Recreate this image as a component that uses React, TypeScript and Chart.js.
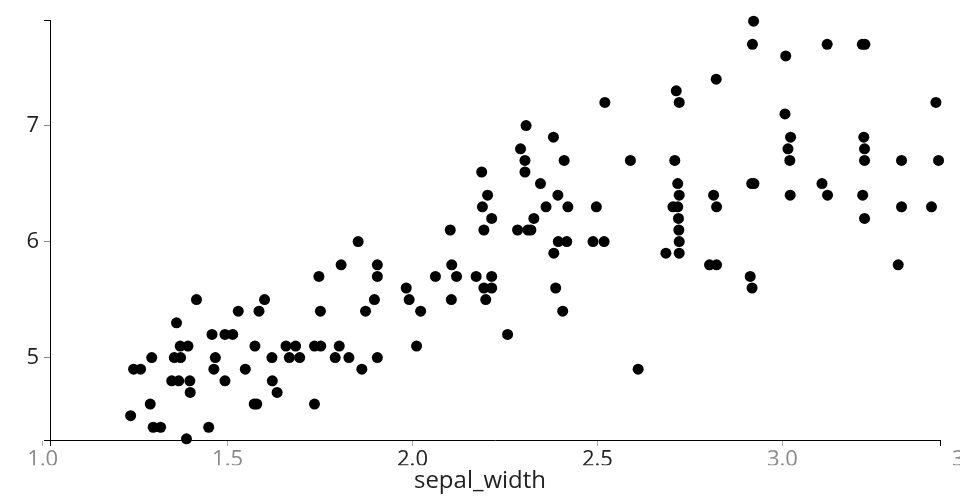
import { useEffect, useRef } from "react";
import { Chart, registerables } from "chart.js";

Chart.register(...registerables);

// sepal_width (x) values
const sepalWidth: number[] = [
  1.747, 1.416, 1.6, 1.529, 1.585, 1.751, 1.362, 1.458, 1.493, 1.514,
  1.372, 1.393, 1.574, 1.658, 1.684, 1.735, 1.752, 1.295, 1.356, 1.373,
  1.467, 1.62, 1.667, 1.695, 1.246, 1.265, 1.463, 1.548, 1.349, 1.368,
  1.398, 1.493, 1.621, 1.399, 1.634, 1.291, 1.572, 1.579, 1.735, 1.238,
  1.299, 1.319, 1.449, 1.389,
  1.807, 1.905, 1.905, 2.106, 2.062, 2.119, 2.172, 2.214, 1.983, 2.193,
  2.214, 2.387, 1.897, 1.991, 2.105, 2.198, 1.873, 2.022, 2.406, 2.257,
  1.802, 2.011, 1.791, 1.828, 1.905, 1.863, 2.61, 2.382,
  2.52, 2.307, 2.381, 2.292, 2.304, 2.41, 2.589, 2.187, 2.304, 2.346,
  2.203, 2.393, 2.189, 2.361, 2.42, 2.497, 2.214, 2.328, 2.102, 2.193,
  2.284, 2.312, 2.32, 1.853, 2.394, 2.417, 2.488, 2.518,
  2.922, 2.919, 3.121, 3.216, 3.223, 3.009, 2.821, 2.713, 2.721, 3.415,
  3.007, 3.022, 3.22, 3.015, 3.222, 2.709, 3.02, 3.222, 3.322, 3.422,
  2.717, 2.917, 2.923, 3.107, 2.721, 2.814, 3.021, 3.122, 3.217, 2.704,
  2.717, 2.822, 3.322, 3.403, 2.719, 3.222, 2.72, 2.721, 2.685, 2.721,
  2.803, 2.822, 3.313, 2.913, 2.918,
];

// sepal_length (y) values
const sepalLength: number[] = [
  5.7, 5.5, 5.5, 5.4, 5.4, 5.4, 5.3, 5.2, 5.2, 5.2,
  5.1, 5.1, 5.1, 5.1, 5.1, 5.1, 5.1, 5.0, 5.0, 5.0,
  5.0, 5.0, 5.0, 5.0, 4.9, 4.9, 4.9, 4.9, 4.8, 4.8,
  4.8, 4.8, 4.8, 4.7, 4.7, 4.6, 4.6, 4.6, 4.6, 4.5,
  4.4, 4.4, 4.4, 4.3,
  5.8, 5.8, 5.7, 5.8, 5.7, 5.7, 5.7, 5.7, 5.6, 5.6,
  5.6, 5.6, 5.5, 5.5, 5.5, 5.5, 5.4, 5.4, 5.4, 5.2,
  5.1, 5.1, 5.0, 5.0, 5.0, 4.9, 4.9, 5.9,
  7.2, 7.0, 6.9, 6.8, 6.7, 6.7, 6.7, 6.6, 6.6, 6.5,
  6.4, 6.4, 6.3, 6.3, 6.3, 6.3, 6.2, 6.2, 6.1, 6.1,
  6.1, 6.1, 6.1, 6.0, 6.0, 6.0, 6.0, 6.0,
  7.9, 7.7, 7.7, 7.7, 7.7, 7.6, 7.4, 7.3, 7.2, 7.2,
  7.1, 6.9, 6.9, 6.8, 6.8, 6.7, 6.7, 6.7, 6.7, 6.7,
  6.5, 6.5, 6.5, 6.5, 6.4, 6.4, 6.4, 6.4, 6.4, 6.3,
  6.3, 6.3, 6.3, 6.3, 6.2, 6.2, 6.1, 6.0, 5.9, 5.9,
  5.8, 5.8, 5.8, 5.7, 5.6,
];

const xTickValues: number[] = [1.0, 1.5, 2.0, 2.5, 3.0, 3.5];
const xTickLabels: string[] = ["1.0", "1.5", "2.0", "2.5", "3.0", "3.5"];
const xFadedTicks: number[] = [1.0, 1.5, 3.0, 3.5];
const yTickValues: number[] = [5, 6, 7];
const yTickLabels: string[] = ["5", "6", "7"];
const xDomain: [number, number] = [1.02, 3.426];
const yDomain: [number, number] = [4.29, 7.91];
const xTitle = "sepal_width";

const FONT = "'Open Sans', 'Noto Sans', sans-serif";
const DARK = "#222222";
const FADED = "#8a8a8a";

const near = (a: number, b: number) => Math.abs(a - b) < 1e-6;

export default function App() {
  const canvasRef = useRef<HTMLCanvasElement | null>(null);

  useEffect(() => {
    const canvas = canvasRef.current;
    if (!canvas) return;

    const points = sepalWidth.map((x, i) => ({ x, y: sepalLength[i] }));

    const xLabel = (v: number) => {
      const i = xTickValues.findIndex((t) => near(t, v));
      return i >= 0 ? xTickLabels[i] : "";
    };
    const yLabel = (v: number) => {
      const i = yTickValues.findIndex((t) => near(t, v));
      return i >= 0 ? yTickLabels[i] : "";
    };
    const isXEnd = (v: number) => near(v, xDomain[0]) || near(v, xDomain[1]);
    const isYEnd = (v: number) => near(v, yDomain[0]) || near(v, yDomain[1]);

    const chart = new Chart(canvas, {
      type: "scatter",
      data: {
        datasets: [
          {
            data: points,
            backgroundColor: "#000000",
            borderWidth: 0,
            pointRadius: 5.5,
            pointHoverRadius: 5.5,
            clip: false as any,
          },
        ],
      },
      options: {
        responsive: false,
        animation: false,
        events: [],
        layout: { padding: { top: 20, left: 0, right: 0, bottom: 0 } },
        plugins: {
          legend: { display: false },
          tooltip: { enabled: false },
          title: {
            display: true,
            position: "bottom",
            text: xTitle,
            color: DARK,
            font: { family: FONT, size: 24, weight: "normal" as any },
            padding: { top: 2, bottom: 4 },
          },
        },
        scales: {
          x: {
            type: "linear",
            position: "bottom",
            min: xDomain[0],
            max: xDomain[1],
            afterBuildTicks: (scale: any) => {
              const vals = [...xTickValues, ...xDomain].sort((a, b) => a - b);
              scale.ticks = vals.map((value) => ({ value }));
            },
            afterFit: (scale: any) => {
              scale.height = 25.2;
              scale.paddingLeft = 0;
              scale.paddingRight = 0;
              scale.paddingTop = 0;
              scale.paddingBottom = 0;
            },
            ticks: {
              autoSkip: false,
              maxRotation: 0,
              minRotation: 0,
              padding: 1,
              font: { family: FONT, size: 22 },
              color: (ctx: any) =>
                xFadedTicks.some((t) => near(t, ctx.tick.value)) ? FADED : DARK,
              callback: (v: any) => xLabel(Number(v)),
            },
            grid: {
              drawOnChartArea: false,
              drawTicks: true,
              tickLength: 6,
              color: (ctx: any) =>
                ctx.tick && isXEnd(ctx.tick.value) ? "#000000" : "#aaaaaa",
            },
            border: { display: true, color: "#000000", width: 1 },
          },
          y: {
            type: "linear",
            position: "left",
            min: yDomain[0],
            max: yDomain[1],
            afterBuildTicks: (scale: any) => {
              const vals = [...yTickValues, ...yDomain].sort((a, b) => a - b);
              scale.ticks = vals.map((value) => ({ value }));
            },
            afterFit: (scale: any) => {
              scale.width = 50;
              scale.paddingTop = 0;
              scale.paddingBottom = 0;
              scale.paddingLeft = 0;
              scale.paddingRight = 0;
            },
            ticks: {
              autoSkip: false,
              padding: 5,
              font: { family: FONT, size: 22 },
              color: DARK,
              callback: (v: any) => yLabel(Number(v)),
            },
            grid: {
              drawOnChartArea: false,
              drawTicks: true,
              tickLength: 6,
              color: (ctx: any) =>
                ctx.tick && isYEnd(ctx.tick.value) ? "#000000" : "#888888",
            },
            border: { display: true, color: "#000000", width: 1 },
          },
          yRight: {
            type: "linear",
            position: "right",
            display: true,
            grid: { display: false },
            border: { display: false },
            ticks: { display: false },
            afterFit: (scale: any) => {
              scale.width = 20;
            },
          },
        },
      },
    } as any);

    return () => {
      chart.destroy();
    };
  }, []);

  return (
    <div
      style={{
        position: "fixed",
        left: 0,
        top: 0,
        width: 960,
        height: 500,
        background: "#ffffff",
      }}
    >
      <canvas
        ref={canvasRef}
        width={960}
        height={500}
        style={{ display: "block", width: 960, height: 500 }}
      />
    </div>
  );
}
